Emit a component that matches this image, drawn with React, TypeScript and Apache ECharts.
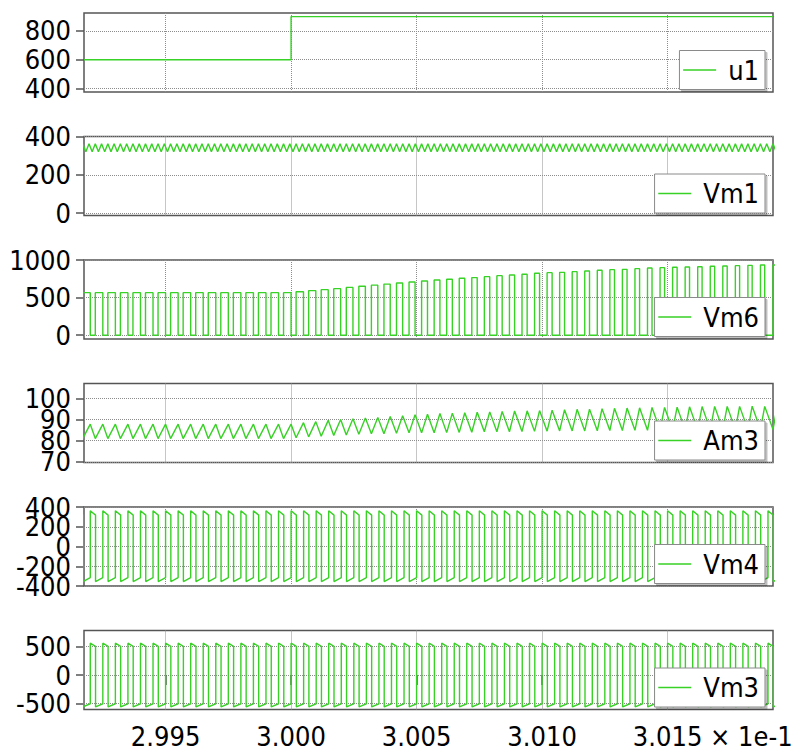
import React, { useEffect, useRef } from "react";
import * as echarts from "echarts";

// ---------- axis data ----------
const xMin = 2.99175;
const xMax = 3.0192;
const xTicks = [2.995, 3.0, 3.005, 3.01, 3.015];
const xScaleLabel = "× 1e-1";

const seriesNames = ["u1", "Vm1", "Vm6", "Am3", "Vm4", "Vm3"];
const yMins = [375, -12.5, -50, 69.7, -400, -606];
const yMaxs = [925, 400, 1000, 107, 400, 783];
const yTicks = [
  [400, 600, 800],
  [0, 200, 400],
  [0, 500, 1000],
  [70, 80, 90, 100],
  [-400, -200, 0, 200, 400],
  [-500, 0, 500],
];

// ---------- signal data ----------
const switchPeriod = 0.0005; // one switching period, in ×1e-1 s
const firstRise = 2.9917; // Vm6 rising edge of the first (partial) cycle
const u1StepTime = 3.0;
const u1Levels = [600, 900];

// Vm1: triangular ripple at twice the switching frequency [trough, peak]
const vm1FirstPeak = 2.9917;
const vm1Levels = [320, 362];

// Vm6: pulse top per switching cycle
const vm6Top = [
  566, 566, 566, 566, 566, 566, 566, 566, 566, 566, 566, 566, 566, 566, 566, 566, 566,
  578, 593, 606, 619, 636, 651, 666, 680, 695,
  708, 721, 735, 744, 757, 766, 779, 792, 801, 810, 823, 832, 836, 845, 854, 863, 872,
  876, 885, 894, 898, 903, 907, 911, 916, 920, 925, 929, 934,
  934,
];
// Vm6: fraction of each cycle spent high
const vm6Duty = [
  0.6, 0.6, 0.6, 0.6, 0.6, 0.6, 0.6, 0.6, 0.6, 0.6, 0.6, 0.6, 0.6, 0.6, 0.6, 0.6, 0.6,
  0.59, 0.57, 0.56, 0.55, 0.53, 0.52, 0.51, 0.5, 0.49,
  0.48, 0.47, 0.46, 0.45, 0.44, 0.43, 0.43, 0.42, 0.41, 0.41, 0.4, 0.4, 0.39, 0.39, 0.38,
  0.38, 0.37, 0.37, 0.37, 0.36, 0.36, 0.36, 0.35, 0.35, 0.35, 0.35, 0.34, 0.34, 0.34,
  0.34,
];
// Am3: peak and trough per switching cycle
const am3Peak = [
  87.8, 87.8, 87.8, 87.8, 87.8, 87.8, 87.8, 87.8, 87.8, 87.8, 87.8, 87.8, 87.8, 87.8, 87.8, 87.8, 87.8,
  88.5, 89.0, 89.6, 90.0, 90.4, 90.7, 91.0, 91.4, 91.8, 92.2, 92.5, 92.8, 93.0, 93.2, 93.4, 93.6,
  93.8, 94.0, 94.1, 94.2, 94.4, 94.6, 94.8, 94.9, 95.1, 95.3, 95.4, 95.5, 95.7, 95.7, 95.8, 96.0,
  96.1, 96.2, 96.2, 96.2, 96.3, 96.2, 96.2,
];
const am3Trough = [
  81.0, 81.0, 81.0, 81.0, 81.0, 81.0, 81.0, 81.0, 81.0, 81.0, 81.0, 81.0, 81.0, 81.0, 81.0, 81.0, 81.0,
  81.4, 81.8, 82.1, 82.5, 82.7, 83.0, 83.3, 83.3, 83.5, 83.7, 83.7, 83.7, 83.8, 83.9, 84.0, 84.2,
  84.2, 84.2, 84.3, 84.4, 84.5, 84.6, 84.6, 84.6, 84.7, 84.8, 84.8, 84.9, 84.9, 85.0, 85.0, 85.1,
  85.1, 85.1, 85.2, 85.2, 85.2, 85.3, 85.3,
];
// Vm4 / Vm3: bipolar pulses [start, end] of the high and low phases
const bipolarFirstRise = 2.9915;
const bipolarHighFrac = 0.42;
const vm4High = [362, 318];
const vm4Low = [-355, -315];
const vm3High = [560, 505];
const vm3Low = [-560, -505];

const lineColor = "#38d126";
const fontFamily = "DejaVu Sans Condensed";
const fontSize = 27;

// ---------- layout ----------
const panelTops = [13, 136.5, 260, 383.5, 507, 630.5];
const panelHeight = 79;
const gridLeft = 84;
const gridRight = 33;

function buildU1() {
  return [
    [xMin, u1Levels[0]],
    [u1StepTime, u1Levels[0]],
    [u1StepTime, u1Levels[1]],
    [xMax, u1Levels[1]],
  ];
}

function buildVm1() {
  const half = switchPeriod / 2;
  const pts: number[][] = [];
  for (let m = 0; vm1FirstPeak + m * half <= xMax + half; m++) {
    const t = vm1FirstPeak + m * half;
    pts.push([t, vm1Levels[1]]);
    pts.push([t + half / 2, vm1Levels[0]]);
  }
  return pts;
}

function buildVm6() {
  const pts: number[][] = [];
  vm6Top.forEach((top, k) => {
    const tr = firstRise + k * switchPeriod;
    const tf = tr + vm6Duty[k] * switchPeriod;
    pts.push([tr, 0], [tr, top], [tf, top], [tf, 0]);
  });
  return pts;
}

function buildAm3() {
  const pts: number[][] = [];
  am3Peak.forEach((peak, k) => {
    const tr = firstRise + k * switchPeriod;
    const tf = tr + vm6Duty[k] * switchPeriod;
    pts.push([tr, am3Trough[k]], [tf, peak]);
  });
  return pts;
}

function buildBipolar(high: number[], low: number[]) {
  const pts: number[][] = [];
  pts.push([bipolarFirstRise - switchPeriod * (1 - bipolarHighFrac), low[0]]);
  for (let j = 0; bipolarFirstRise + j * switchPeriod <= xMax + switchPeriod; j++) {
    const t = bipolarFirstRise + j * switchPeriod;
    const tf = t + bipolarHighFrac * switchPeriod;
    pts.push([t, low[1]], [t, high[0]], [tf, high[1]], [tf, low[0]]);
  }
  return pts;
}

export default function App() {
  const ref = useRef<HTMLDivElement>(null);

  useEffect(() => {
    if (!ref.current) return;
    const chart = echarts.init(ref.current, undefined, { renderer: "svg" });

    const datasets = [
      buildU1(),
      buildVm1(),
      buildVm6(),
      buildAm3(),
      buildBipolar(vm4High, vm4Low),
      buildBipolar(vm3High, vm3Low),
    ];

    const grids = panelTops.map((top) => ({
      left: gridLeft,
      right: gridRight,
      top,
      height: panelHeight,
      show: true,
      borderColor: "#555",
      borderWidth: 1.5,
      backgroundColor: "#fff",
    }));

    const splitLineStyle = { color: "#8c8c8c", width: 1, type: "dotted" as const };

    const xAxes = panelTops.map((_, i) => {
      const isLast = i === panelTops.length - 1;
      return {
        type: "value",
        gridIndex: i,
        min: xMin,
        max: xMax,
        axisLine: { show: false },
        axisTick: {
          show: isLast,
          length: 10,
          inside: false,
          customValues: xTicks,
          lineStyle: { color: "#555", width: 1.5 },
        },
        axisLabel: {
          show: isLast,
          customValues: xTicks,
          showMinLabel: true,
          showMaxLabel: true,
          formatter: (v: number) => v.toFixed(3),
          fontSize,
          fontFamily,
          color: "#000",
          margin: 13,
        },
        splitLine: { show: true, lineStyle: splitLineStyle },
      };
    });

    const labelStyle = {
      show: true,
      showMinLabel: true,
      showMaxLabel: true,
      hideOverlap: false,
      formatter: (v: number) => String(v),
      fontSize,
      fontFamily,
      color: "#000",
      margin: 13,
    };

    // primary axes: ticks, grid lines and every other label
    const yAxesMain = panelTops.map((_, i) => ({
      type: "value",
      gridIndex: i,
      min: yMins[i],
      max: yMaxs[i],
      axisLine: { show: false },
      axisTick: {
        show: true,
        length: 8,
        customValues: yTicks[i],
        lineStyle: { color: "#555", width: 1.5 },
      },
      axisLabel: {
        ...labelStyle,
        customValues: yTicks[i].filter((_, j) => j % 2 === 0),
      },
      splitLine: { show: true, lineStyle: splitLineStyle },
    }));
    // companion axes: the remaining labels (so crowded labels are all kept)
    const yAxesAlt = panelTops.map((_, i) => ({
      type: "value",
      gridIndex: i,
      position: "left",
      offset: 0,
      min: yMins[i],
      max: yMaxs[i],
      axisLine: { show: false },
      axisTick: { show: false },
      axisLabel: {
        ...labelStyle,
        customValues: yTicks[i].filter((_, j) => j % 2 === 1),
      },
      splitLine: { show: false },
    }));

    const series = seriesNames.map((name, i) => ({
      name,
      type: "line",
      xAxisIndex: i,
      yAxisIndex: i,
      data: datasets[i],
      symbol: "none",
      showSymbol: false,
      clip: true,
      lineStyle: { color: lineColor, width: 1.4 },
      itemStyle: { color: lineColor },
      z: 3,
    }));

    const legends = seriesNames.map((name, i) => ({
      data: [name],
      right: 41,
      top: panelTops[i] + 37.5,
      orient: "horizontal",
      itemWidth: 33,
      itemHeight: 2,
      padding: [6, 6, 6, 3],
      selectedMode: false,
      backgroundColor: "#fff",
      borderColor: "#8a8a8a",
      borderWidth: 1,
      borderRadius: 0,
      shadowColor: "rgba(0,0,0,0.25)",
      shadowBlur: 1,
      shadowOffsetX: 2,
      shadowOffsetY: 2,
      itemStyle: { opacity: 0 },
      lineStyle: { width: 1.4 },
      textStyle: {
        fontSize,
        fontFamily,
        color: "#000",
        padding: [0, 0, 0, 7],
      },
    }));

    chart.setOption({
      animation: false,
      backgroundColor: "#fff",
      textStyle: { fontFamily },
      grid: grids,
      xAxis: xAxes,
      yAxis: [...yAxesMain, ...yAxesAlt],
      series,
      legend: legends,
      graphic: [
        {
          type: "text",
          left: 710,
          top: 723,
          style: {
            text: xScaleLabel,
            fontSize,
            fontFamily,
            fill: "#000",
          },
        },
      ],
    });

    return () => {
      chart.dispose();
    };
  }, []);

  return (
    <div
      ref={ref}
      style={{ position: "absolute", left: 0, top: 0, width: 806, height: 752 }}
    />
  );
}
